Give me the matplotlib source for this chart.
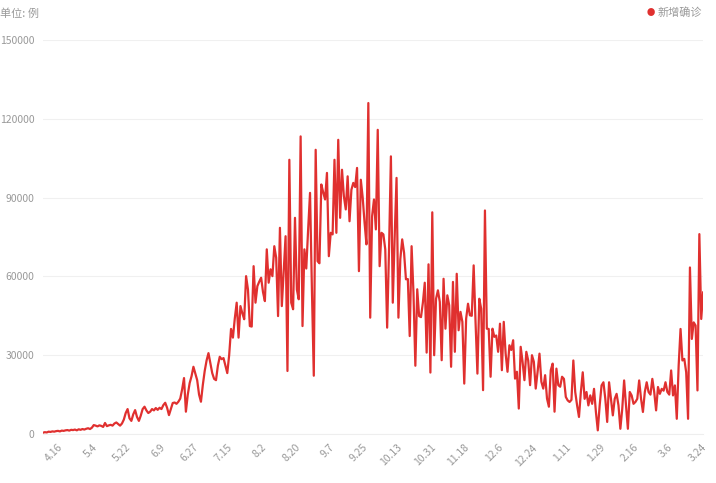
import pandas as pd
import matplotlib
matplotlib.use("Agg")
import matplotlib.pyplot as plt

plt.rcParams['font.family'] = ['Noto Sans CJK SC', 'DejaVu Sans']

# daily new cases (one value per day)
start_date = "2021-04-08"
new_cases = [
    500, 700, 600, 900, 800, 1000, 900, 1100, 1200, 1000, 1300,
    1200, 1400, 1500, 1300, 1600, 1500, 1700, 1400, 1800, 1600,
    1900, 1700, 2000, 2200, 1900, 2400,
    3400, 3200, 2900, 3300, 3100, 2700, 4200, 3000, 3300, 3500, 3200, 4000, 4400, 3800, 3200, 4000,
    5500, 8000, 9500, 6000, 5000, 7500, 9100, 6500,
    5000, 7000, 9500, 10400, 9000, 8000, 8500, 9500, 9000, 9900,
    9200, 10000, 9500, 11000, 11900, 10000, 7200, 9500, 11800, 12000,
    11500, 12300, 13500, 17000, 21300, 8500, 15000, 19400, 22000, 25600,
    23000, 20500, 15000, 12300, 18700, 24000, 28000, 30800, 27000, 23200,
    21000, 20500, 26000, 29400, 28500, 28900, 26000, 23200, 30000,
    40000, 36700, 44000, 50000, 36700, 48700, 46000, 43700, 60100, 55000,
    41100, 40900, 63900, 50000, 56300, 58000, 59500, 54000, 50600, 70300,
    57600, 62700, 60100, 71500, 67100, 44900, 78500, 48700, 62000, 75300,
    24000, 104400, 50000, 47500, 82300, 55000, 51300, 113300, 41100, 70300,
    63000, 78000, 91800, 55000, 22200, 108200, 65800, 65000, 95000, 92000,
    89300, 99400, 67700, 76600, 76000, 104400, 76600, 112000, 82300, 100600,
    90500, 85500, 98100, 81000, 93000, 95600, 94000, 101300, 62000, 96800,
    90000, 80400, 72200, 126000, 44300, 82900, 89300, 77900, 115800, 63900,
    76600, 76000, 70300, 40500, 70000, 105700, 50000, 75000, 97500, 44300,
    66500, 74100, 69000, 58900, 59000, 37300, 71500, 53800, 26000, 55100,
    44900, 44500, 50000, 57600, 31000, 64600, 23400, 84400, 30000, 51500,
    54700, 50300, 28100, 59100, 40100, 52800, 49000, 25600, 57900, 31300,
    61000, 39500, 46500, 42700, 19200, 43900, 49600, 45200, 45000, 64200,
    42700, 23000, 51500, 47700, 16700, 85100, 40100, 40000, 21800, 40100,
    37000, 37500, 31300, 42000, 24300, 42700, 30600, 23700, 33800, 32000,
    35700, 21100, 23700, 9700, 33200, 27500, 20500, 31300, 28000, 18600,
    30000, 27500, 17300, 23700, 30600, 19900, 17300, 22400,
    13500, 10400, 24300, 26800, 8500, 24900, 18600, 18000, 21800, 21000,
    14100, 12800, 12200, 13000, 28000, 16000, 10900, 6500, 16000, 23500,
    13400, 16000, 10900, 14700, 11500, 17200, 8400, 1400, 10900, 18500,
    19700, 13400, 4600, 19700, 13400, 7100, 13400, 15300, 10900, 2000,
    9600, 20400, 10900, 2000, 16000, 14700, 11500, 12200, 13400, 20400,
    13400, 8400, 16000, 19700, 16000, 15000, 21000, 16000, 9000, 17900,
    15300, 17200, 16500, 19700, 16000, 15000, 24200, 14700, 18500, 5800,
    26100, 40000, 28000, 28600, 23500, 5800, 63400, 36200, 42500, 41300,
    16600, 76100, 43800, 53900,
]
y_ticks = [0, 30000, 60000, 90000, 120000, 150000]

dates = pd.date_range(start_date, periods=len(new_cases), freq="D")
labels = [f"{d.month}.{d.day}" for d in dates]
x = list(range(len(new_cases)))

fig = plt.figure(figsize=(7.16, 4.83), dpi=100)
ax = fig.add_axes([0.060, 0.1014, 0.922, 0.8158])

ax.plot(x, new_cases, color="#e0302f", linewidth=1.6, solid_joinstyle="round")

ax.set_xlim(0, len(new_cases) - 1)
ax.set_ylim(0, 150000)

# y axis: light grid, grey labels
ax.set_yticks(y_ticks)
ax.set_yticklabels([str(v) for v in y_ticks])
ax.yaxis.grid(True, color="#f0f0f0", linewidth=0.8)
ax.set_axisbelow(True)

# x axis: one label every 18 days, rotated
tick_idx = list(range(8, len(new_cases), 18))
ax.set_xticks(tick_idx)
ax.set_xticklabels([labels[i] for i in tick_idx], rotation=45, ha="right",
                   va="top", rotation_mode="anchor")

ax.tick_params(axis="both", length=0, colors="#999999", labelsize=7.5)
ax.tick_params(axis="x", pad=6)
ax.tick_params(axis="y", pad=6)

for s in ["top", "right", "left"]:
    ax.spines[s].set_visible(False)
ax.spines["bottom"].set_color("#eeeeee")

fig.text(0.0, 0.982, "单位: 例", color="#999999", fontsize=8, va="top", ha="left")

# legend in the top right corner
fig.text(0.9085, 0.975, "●", color="#e0302f", fontsize=6, va="center", ha="center")
fig.text(0.919, 0.975, "新增确诊", color="#999999", fontsize=8, va="center", ha="left")

plt.savefig("out.png", dpi=100)
